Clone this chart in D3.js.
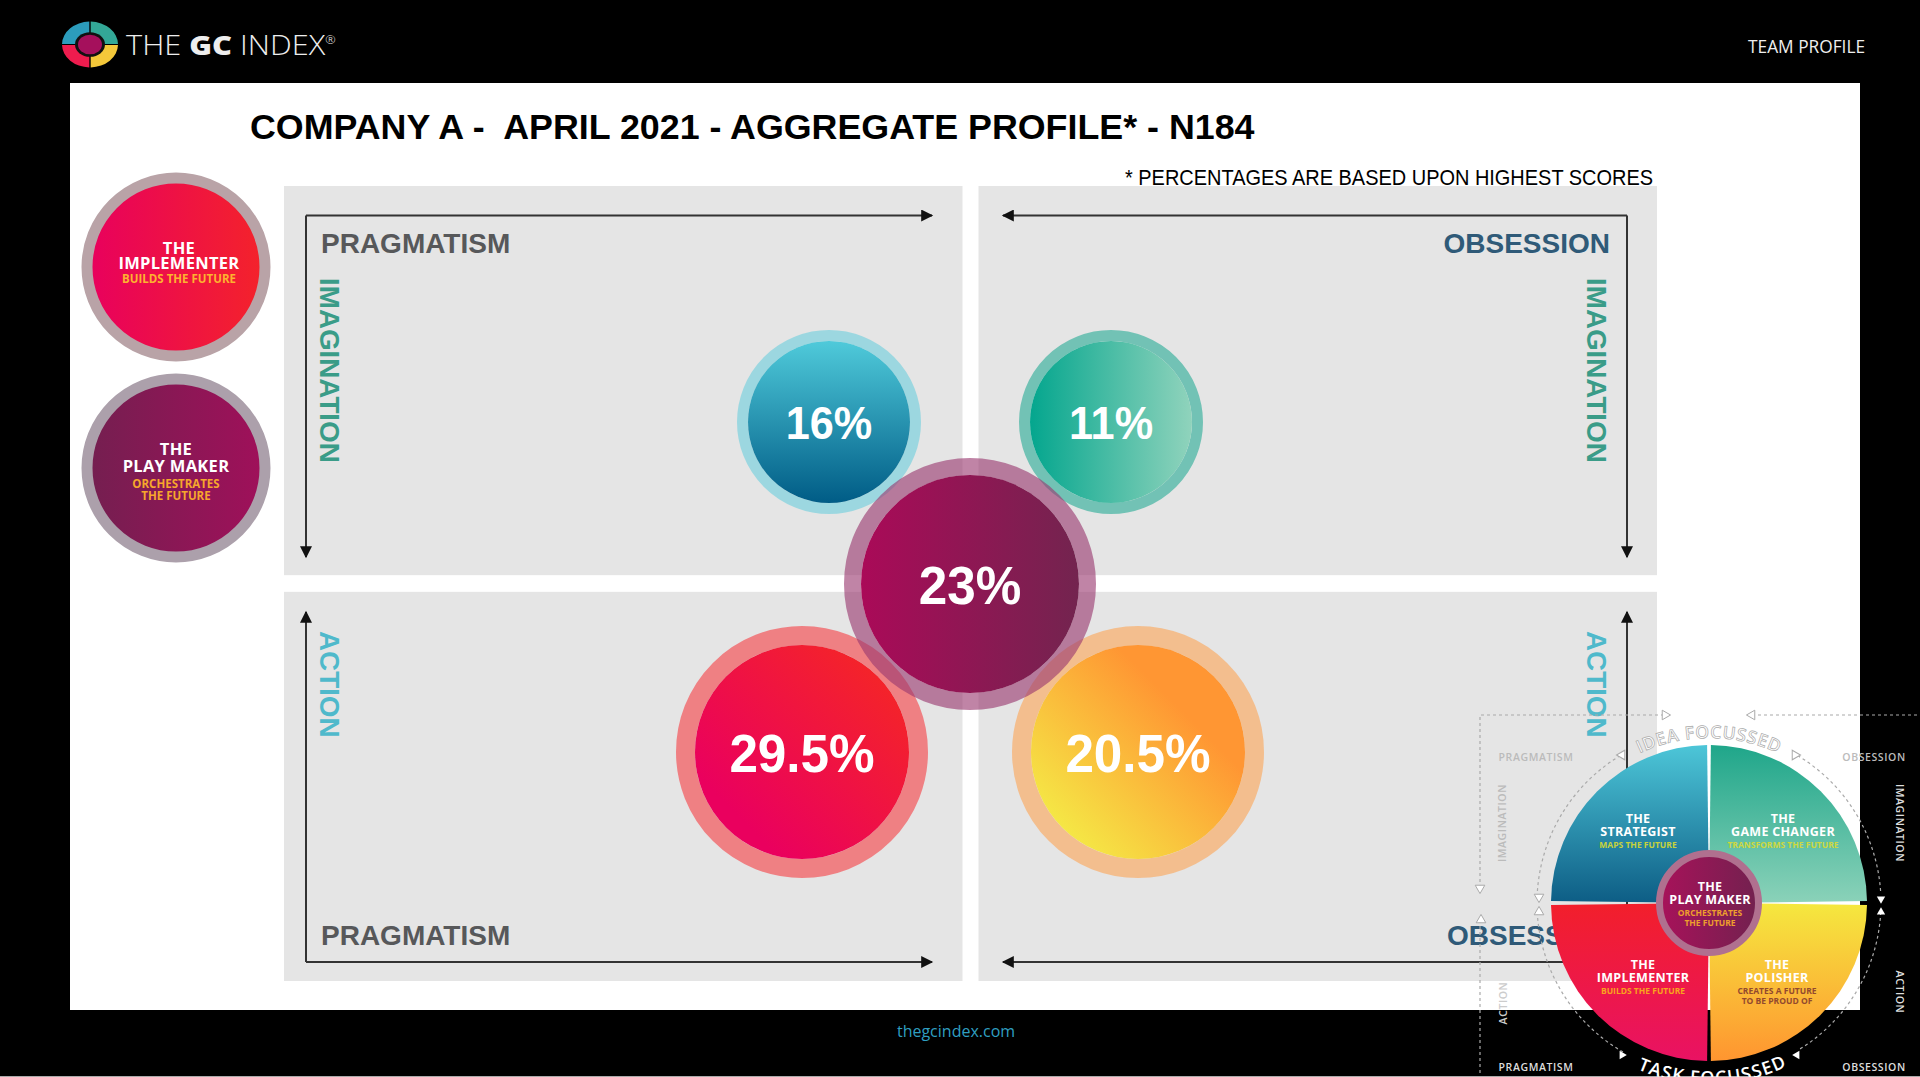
<!DOCTYPE html>
<html>
<head>
<meta charset="utf-8">
<script src="https://cdn.jsdelivr.net/npm/d3@7"></script>
<style>
  html, body { margin: 0; padding: 0; background: #000; overflow: hidden; }
  svg { display: block; }
  .sans { font-family: "Liberation Sans", Arial, sans-serif; }
  .brand { font-family: "Open Sans", sans-serif; }
</style>
</head>
<body>
<div id="chart"></div>
<script>

// Chart values
var title = "COMPANY A -  APRIL 2021 - AGGREGATE PROFILE* - N184";
var footnote = "* PERCENTAGES ARE BASED UPON HIGHEST SCORES";
var columns = ["PRAGMATISM", "OBSESSION"];
var rows = ["IMAGINATION", "ACTION"];
var profiles = ["strategist", "gamechanger", "implementer", "polisher", "playmaker"];
var profileValues = [16, 11, 29.5, 20.5, 23];
var profileSideX = [-1, 1, -1, 1, 0];
var profileSideY = [-1, -1, 1, 1, 0];
var legendProfiles = ["implementer", "playmaker"];

// clockwise from 12 o'clock
var wheelProfiles = ["gamechanger", "polisher", "implementer", "strategist"];
var wheelTitles = { strategist: ["THE", "STRATEGIST"], gamechanger: ["THE", "GAME CHANGER"],
  implementer: ["THE", "IMPLEMENTER"], polisher: ["THE", "POLISHER"], playmaker: ["THE", "PLAY MAKER"] };
var wheelTaglines = { strategist: ["MAPS THE FUTURE"], gamechanger: ["TRANSFORMS THE FUTURE"],
  implementer: ["BUILDS THE FUTURE"], polisher: ["CREATES A FUTURE", "TO BE PROUD OF"],
  playmaker: ["ORCHESTRATES", "THE FUTURE"] };

var width = 1920,
    height = 1077;

var svg = d3.select("#chart").append("svg")
    .attr("width", width)
    .attr("height", height);

var defs = svg.append("defs");

function gradient(id, x1, y1, x2, y2, from, to) {
  var g = defs.append("linearGradient").attr("id", id)
      .attr("x1", x1).attr("y1", y1).attr("x2", x2).attr("y2", y2);
  g.append("stop").attr("offset", "0%").attr("stop-color", from);
  g.append("stop").attr("offset", "100%").attr("stop-color", to);
}

// bubble gradients
gradient("b-strategist", 0, 0, 0, 1, "#4fcada", "#005c86");
gradient("b-gamechanger", 0, 0, 1, 0, "#04a68e", "#90d3bc");
gradient("b-implementer", 0.2, 0.8, 0.85, 0.15, "#ea005e", "#f4232a");
gradient("b-polisher", 0.15, 0.85, 0.7, 0.3, "#f5e645", "#ff9633");
gradient("b-playmaker", 0, 0, 1, 0, "#aa0a58", "#73244f");

// wheel gradients
gradient("w-strategist", 0, 0, 0, 1, "#4dc6d8", "#0d5d85");
gradient("w-gamechanger", 0, 0, 0, 1, "#1fa68a", "#8bd2b9");
gradient("w-implementer", 0, 0, 0, 1, "#f21f2b", "#e91263");
gradient("w-polisher", 0, 0, 0, 1, "#f5e83f", "#ff9530");
gradient("w-playmaker", 0, 0, 1, 0, "#a8125a", "#72214f");

// legend gradients
gradient("l-implementer", 0, 0, 1, 0, "#e8005e", "#f4232a");
gradient("l-playmaker", 0, 0, 1, 0, "#741f50", "#a0105a");

var ringColor = { strategist: "#6fcedd", gamechanger: "#2cac98", implementer: "#f54247",
  polisher: "#fca659", playmaker: "#99386f" };

// white slide panel
svg.append("rect")
    .attr("x", 70).attr("y", 83)
    .attr("width", 1790).attr("height", 927)
    .attr("fill", "#fff");

// thin grey line along the bottom edge of the slide
svg.append("rect")
    .attr("x", 0).attr("y", 1076)
    .attr("width", width).attr("height", 1)
    .attr("fill", "#aaa");

// ---------- header / footer ----------
var arcLogo = d3.arc().innerRadius(14).outerRadius(28).padAngle(0.05).padRadius(28);
var logo = svg.append("g").attr("transform", "translate(90,44.5) scale(1,0.82)");
var logoColors = ["#33a897", "#f4c83a", "#ee1c4e", "#2c9cbc"];
logo.selectAll("path")
    .data(d3.range(4))
  .enter().append("path")
    .attr("d", function(d) { return arcLogo({ startAngle: d * Math.PI / 2, endAngle: (d + 1) * Math.PI / 2 }); })
    .attr("fill", function(d) { return logoColors[d]; });
logo.append("circle").attr("r", 15).attr("fill", "#111");
logo.append("circle").attr("r", 12).attr("fill", "#a5105c");

var logoText = svg.append("text")
    .attr("class", "brand")
    .attr("transform", "translate(126,55) scale(1.14,1)")
    .attr("fill", "#eee")
    .attr("font-size", 27)
    .attr("font-weight", 300);
logoText.append("tspan").text("THE ");
logoText.append("tspan").attr("font-weight", 800).text("GC ");
logoText.append("tspan").text("INDEX");
logoText.append("tspan").attr("font-size", 11).attr("dy", -11).text("®");

svg.append("text")
    .attr("class", "brand")
    .attr("x", 1865).attr("y", 53)
    .attr("text-anchor", "end")
    .attr("fill", "#eee")
    .attr("font-size", 17.3)
    .text("TEAM PROFILE");

svg.append("text")
    .attr("class", "brand")
    .attr("x", 956).attr("y", 1037)
    .attr("text-anchor", "middle")
    .attr("fill", "#2f9fc0")
    .attr("font-size", 16)
    .text("thegcindex.com");

svg.append("text")
    .attr("class", "sans")
    .attr("x", 250).attr("y", 139)
    .attr("font-size", 35.8)
    .attr("font-weight", 700)
    .attr("fill", "#000")
    .style("white-space", "pre")
    .text(title);

svg.append("text")
    .attr("class", "sans")
    .attr("x", 1125).attr("y", 185)
    .attr("font-size", 21.5)
    .attr("fill", "#000")
    .attr("textLength", 528)
    .attr("lengthAdjust", "spacingAndGlyphs")
    .text(footnote);

// ---------- quadrants ----------
var xBand = d3.scaleBand().domain(columns).range([284, 1657]).paddingInner(0.023);
var yBand = d3.scaleBand().domain(rows).range([186, 981]).paddingInner(0.041);

var cells = d3.cross(columns, rows);

svg.append("g").selectAll("rect")
    .data(cells)
  .enter().append("rect")
    .attr("x", function(d) { return xBand(d[0]); })
    .attr("y", function(d) { return yBand(d[1]); })
    .attr("width", xBand.bandwidth())
    .attr("height", yBand.bandwidth())
    .attr("fill", "#e5e5e5");

var columnColor = { PRAGMATISM: "#57585a", OBSESSION: "#2f5a78" };
var rowColor = { IMAGINATION: "#3a9c88", ACTION: "#4fb9cb" };

// arrowheads
defs.append("marker")
    .attr("id", "head")
    .attr("viewBox", "0 0 10 10")
    .attr("refX", 9).attr("refY", 5)
    .attr("markerWidth", 6.5).attr("markerHeight", 6)
    .attr("markerUnits", "strokeWidth")
    .attr("orient", "auto")
  .append("path")
    .attr("d", "M0,0L10,5L0,10Z")
    .attr("fill", "#111");

var elbow = d3.line();

cells.forEach(function(d) {
  var left = d[0] === columns[0],
      top = d[1] === rows[0];
  var cornerX = left ? 306 : 1627,
      endX = left ? 932 : 1003,
      cornerY = top ? 215.5 : 962,
      endY = top ? 557 : 612;

  svg.append("path")
      .attr("d", elbow([[cornerX, cornerY], [endX, cornerY]]))
      .attr("stroke", "#333").attr("stroke-width", 2).attr("fill", "none")
      .attr("marker-end", "url(#head)");
  svg.append("path")
      .attr("d", elbow([[cornerX, cornerY], [cornerX, endY]]))
      .attr("stroke", "#333").attr("stroke-width", 2).attr("fill", "none")
      .attr("marker-end", "url(#head)");

  svg.append("text")
      .attr("class", "sans")
      .attr("x", left ? 321 : (top ? 1610 : 1447))
      .attr("y", top ? 253 : 945)
      .attr("text-anchor", left || !top ? "start" : "end")
      .attr("font-size", 28)
      .attr("font-weight", 700)
      .attr("fill", columnColor[d[0]])
      .text(d[0]);

  svg.append("text")
      .attr("class", "sans")
      .attr("transform", "translate(" + (left ? 320 : 1587) + "," + (top ? 278 : 631) + ") rotate(90)")
      .attr("font-size", 27.8)
      .attr("font-weight", 700)
      .attr("fill", rowColor[d[1]])
      .text(d[1]);
});

// ---------- bubbles ----------
// bigger profiles (over 20%) sit on a wider ring, radius goes by tier
var outerScale = d3.scaleThreshold().domain([20]).range([92, 126]);
var ringScale = d3.scaleThreshold().domain([20]).range([11, 17]);
var offsetX = d3.scaleThreshold().domain([20]).range([141, 168]);
var offsetY = d3.scaleThreshold().domain([20]).range([162, 168]);
var labelSize = d3.scaleThreshold().domain([20]).range([46, 54.5]);

var bubbleData = profiles.map(function(p, i) {
  return { profile: p, value: profileValues[i], sx: profileSideX[i], sy: profileSideY[i] };
});

// the two big corner bubbles have a slightly thicker ring than the centre one
function ringWidth(d) {
  return ringScale(d.value) + (d.sx !== 0 && d.value > 20 ? 2 : 0);
}

var bubbles = svg.append("g").selectAll("g")
    .data(bubbleData)
  .enter().append("g")
    .attr("transform", function(d) {
      return "translate(" + (970 + d.sx * offsetX(d.value)) + "," + (584 + d.sy * offsetY(d.value)) + ")";
    });

bubbles.append("circle")
    .attr("r", function(d) { return outerScale(d.value) - ringWidth(d) / 2; })
    .attr("fill", "none")
    .attr("stroke", function(d) { return ringColor[d.profile]; })
    .attr("stroke-opacity", 0.62)
    .attr("stroke-width", ringWidth);

bubbles.append("circle")
    .attr("r", function(d) { return outerScale(d.value) - ringWidth(d); })
    .attr("fill", function(d) { return "url(#b-" + d.profile + ")"; });

// the percentages are a bit condensed in the reference
bubbles.append("text")
    .attr("class", "sans")
    .attr("text-anchor", "middle")
    .attr("transform", function(d) { return "translate(0," + (labelSize(d.value) * 0.36) + ") scale(0.94,1)"; })
    .attr("font-size", function(d) { return labelSize(d.value); })
    .attr("font-weight", 700)
    .attr("fill", "#fff")
    .text(function(d) { return d.value + "%"; });

// ---------- small legend circles on the left ----------
var legendY = d3.scalePoint().domain(legendProfiles).range([267, 468]);
var legendRing = { implementer: "#b9a3a7", playmaker: "#aca0ab" };

var legend = svg.append("g").selectAll("g")
    .data(legendProfiles)
  .enter().append("g")
    .attr("transform", function(d) { return "translate(176," + legendY(d) + ")"; });

legend.append("circle")
    .attr("r", 89)
    .attr("fill", function(d) { return "url(#l-" + d + ")"; })
    .attr("stroke", function(d) { return legendRing[d]; })
    .attr("stroke-width", 11);

function stackedLabel(sel, titleLines, subLines, titleSize, subSize, lineGap, subGap, top, subColor) {
  titleLines.forEach(function(t, i) {
    sel.append("text")
        .attr("class", "brand")
        .attr("text-anchor", "middle")
        .attr("y", top + i * lineGap)
        .attr("font-size", titleSize)
        .attr("font-weight", 700)
        .attr("letter-spacing", 0.3)
        .attr("fill", "#fff")
        .text(t);
  });
  subLines.forEach(function(t, i) {
    sel.append("text")
        .attr("class", "brand")
        .attr("text-anchor", "middle")
        .attr("y", top + (titleLines.length - 1) * lineGap + lineGap * 0.92 + i * subGap)
        .attr("font-size", subSize)
        .attr("font-weight", 700)
        .attr("fill", subColor)
        .text(t);
  });
}

legend.each(function(d) {
  var g = d3.select(this);
  if (d === "implementer") {
    stackedLabel(g.append("g").attr("transform", "translate(3,0)"), wheelTitles[d], wheelTaglines[d], 16.5, 11.5, 15, 12, -13, "#fdb22f");
  } else {
    stackedLabel(g, wheelTitles[d], wheelTaglines[d], 16.5, 11.5, 17, 12, -13, "#f6a72c");
  }
});

// ---------- wheel, bottom right ----------
var wheelX = 1709,
    wheelY = 903,
    wheelR = 158;

var wheelAngle = d3.scaleBand().domain(wheelProfiles).range([0, 2 * Math.PI]);
var wheelArc = d3.arc()
    .innerRadius(0)
    .outerRadius(wheelR)
    .padAngle(0.024)
    .padRadius(wheelR);

var wheelGuide = svg.append("g")
    .attr("fill", "none")
    .attr("stroke-width", 1.2)
    .attr("stroke-dasharray", "3,3");

// dashed frame lines behind the wheel
var frameLines = [
  [[1480, 888], [1480, 715], [1665, 715]],
  [[1752, 715], [1920, 715]],
  [[1480, 920], [1480, 1077]]
];
wheelGuide.selectAll("path.frame")
    .data(frameLines)
  .enter().append("path")
    .attr("class", "frame")
    .attr("d", d3.line())
    .attr("stroke", "#aaa");

// dashed arcs around the wheel: [from, to] in degrees, clockwise from 3 o'clock
var guideArcs = [[-178, -120], [-59, -3], [3, 59], [120, 177]];
wheelGuide.selectAll("path.arc")
    .data(guideArcs)
  .enter().append("path")
    .attr("class", "arc")
    .attr("d", function(d) {
      var p = d3.path();
      p.arc(wheelX, wheelY, 172, d[0] * Math.PI / 180, d[1] * Math.PI / 180);
      return p.toString();
    })
    .attr("stroke", "#aaa");

// small hollow arrow tips at the ends of the guides
var tips = [[1665, 715, 90], [1752, 715, -90], [1480, 888, 180], [1622, 755, 30], [1795, 755, -30],
  [1539, 897, 180], [1539, 912, 0], [1481, 920, 0]];
svg.append("g").selectAll("path")
    .data(tips)
  .enter().append("path")
    .attr("d", d3.symbol(d3.symbolTriangle).size(40))
    .attr("transform", function(d) { return "translate(" + d[0] + "," + d[1] + ") rotate(" + d[2] + ")"; })
    .attr("fill", "#fff")
    .attr("stroke", "#aaa");

var solidTips = [[1881, 899, 180], [1881, 912, 0], [1622, 1055, -150], [1797, 1055, 150]];
svg.append("g").selectAll("path")
    .data(solidTips)
  .enter().append("path")
    .attr("d", d3.symbol(d3.symbolTriangle).size(30))
    .attr("transform", function(d) { return "translate(" + d[0] + "," + d[1] + ") rotate(" + d[2] + ")"; })
    .attr("fill", "#fff");

var wheel = svg.append("g").attr("transform", "translate(" + wheelX + "," + wheelY + ")");

wheel.selectAll("path")
    .data(wheelProfiles)
  .enter().append("path")
    .attr("d", function(d) {
      return wheelArc({ startAngle: wheelAngle(d), endAngle: wheelAngle(d) + wheelAngle.bandwidth() });
    })
    .attr("fill", function(d) { return "url(#w-" + d + ")"; });

wheel.append("circle")
    .attr("cy", 0)
    .attr("r", 49.5)
    .attr("fill", "url(#w-playmaker)")
    .attr("stroke", "#b0708f")
    .attr("stroke-width", 7);

var wheelLabelPos = {
  strategist: [-71, -84], gamechanger: [74, -84],
  implementer: [-66, 62], polisher: [68, 62], playmaker: [1, -16]
};
var wheelSubColor = { strategist: "#c6d23c", gamechanger: "#cdd83f", implementer: "#f9a41d",
  polisher: "#92492e", playmaker: "#ee9f2d" };

profiles.forEach(function(p) {
  var g = wheel.append("g")
      .attr("transform", "translate(" + wheelLabelPos[p][0] + "," + wheelLabelPos[p][1] + ")");
  stackedLabel(g, wheelTitles[p], wheelTaglines[p], 12.5, 8.5, 12.8, 10, 4, wheelSubColor[p]);
});

// corner labels round the wheel
var wheelCorner = [
  { t: columns[0], x: 1536, y: 761, c: "#bbb", r: 0 },
  { t: columns[1], x: 1874, y: 761, c: "#bbb", r: 0 },
  { t: columns[0], x: 1536, y: 1071, c: "#ddd", r: 0 },
  { t: columns[1], x: 1874, y: 1071, c: "#ddd", r: 0 },
  { t: rows[0], x: 1506, y: 823, c: "#bbb", r: -90 },
  { t: rows[0], x: 1896, y: 823, c: "#ddd", r: 90 },
  { t: rows[1], x: 1507, y: 1003, c: "#ccc", r: -90 },
  { t: rows[1], x: 1896, y: 992, c: "#ddd", r: 90 }
];
svg.append("g").selectAll("text")
    .data(wheelCorner)
  .enter().append("text")
    .attr("class", "brand")
    .attr("transform", function(d) { return "translate(" + d.x + "," + d.y + ") rotate(" + d.r + ")"; })
    .attr("text-anchor", "middle")
    .attr("font-size", 10.5)
    .attr("font-weight", 600)
    .attr("letter-spacing", 0.6)
    .attr("fill", function(d) { return d.c; })
    .text(function(d) { return d.t; });

// curved captions
var topCurve = d3.path();
topCurve.arc(wheelX, wheelY, 165, -Math.PI * 0.85, -Math.PI * 0.15);
defs.append("path").attr("id", "curve-top").attr("d", topCurve.toString());

var bottomCurve = d3.path();
bottomCurve.arc(wheelX, wheelY, 181, Math.PI * 0.85, Math.PI * 0.15, true);
defs.append("path").attr("id", "curve-bottom").attr("d", bottomCurve.toString());

svg.append("text")
    .attr("class", "brand")
    .attr("font-size", 17.5)
    .attr("font-weight", 600)
    .attr("letter-spacing", 0.8)
    .attr("text-anchor", "middle")
    .attr("fill", "#fff")
    .attr("stroke", "#aaa")
    .attr("stroke-width", 0.7)
  .append("textPath")
    .attr("href", "#curve-top")
    .attr("startOffset", "50%")
    .text("IDEA FOCUSSED");

svg.append("text")
    .attr("class", "brand")
    .attr("font-size", 18)
    .attr("font-weight", 600)
    .attr("letter-spacing", 1.2)
    .attr("text-anchor", "middle")
    .attr("fill", "#fff")
  .append("textPath")
    .attr("href", "#curve-bottom")
    .attr("startOffset", "51%")
    .text("TASK FOCUSSED");

</script>
</body>
</html>
